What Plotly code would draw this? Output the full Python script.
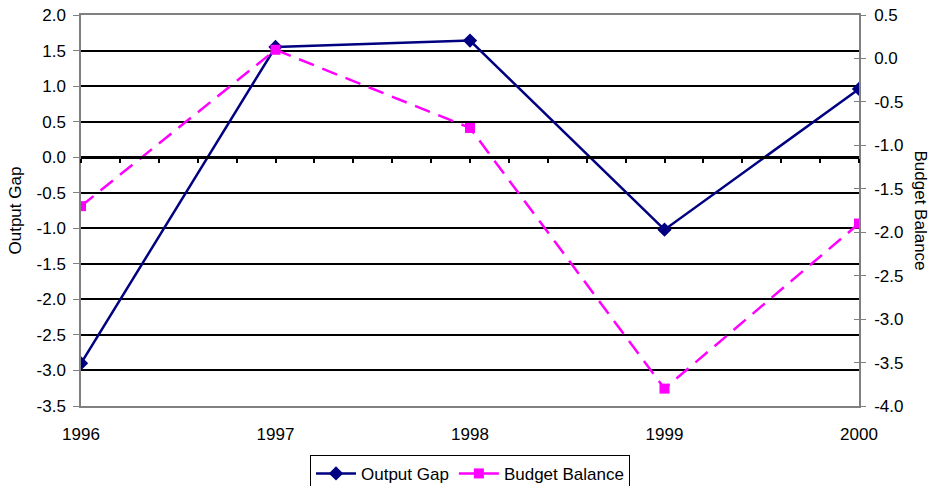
import plotly.graph_objects as go

years = [1996, 1997, 1998, 1999, 2000]
output_gap = [-2.9, 1.55, 1.64, -1.02, 0.96]
budget_balance = [-1.7, 0.1, -0.8, -3.8, -1.9]

left_ticks = [2.0, 1.5, 1.0, 0.5, 0.0, -0.5, -1.0, -1.5, -2.0, -2.5, -3.0, -3.5]
right_ticks = [0.5, 0.0, -0.5, -1.0, -1.5, -2.0, -2.5, -3.0, -3.5, -4.0]
left_labels = [f"{v:.1f}" for v in left_ticks]
right_labels = [f"{v:.1f}" for v in right_ticks]
year_labels = [str(y) for y in years]

FONT = "Arial, Liberation Sans, sans-serif"
FS = 17

fig = go.Figure()
fig.add_trace(go.Scatter(
    x=years, y=output_gap, name="Output Gap", mode="lines+markers",
    line=dict(color="#000080", width=2.5),
    marker=dict(symbol="diamond", size=11, color="#000080"),
    yaxis="y", xaxis="x"))
fig.add_trace(go.Scatter(
    x=years, y=budget_balance, name="Budget Balance", mode="lines+markers",
    line=dict(color="#FF00FF", width=2.5, dash="16px,9px"),
    marker=dict(symbol="square", size=10, color="#FF00FF"),
    yaxis="y2", xaxis="x"))
# dummy traces to activate helper axes
fig.add_trace(go.Scatter(x=[1996], y=[None], xaxis="x2", yaxis="y", showlegend=False,
                         hoverinfo="skip"))
fig.add_trace(go.Scatter(x=[1996], y=[None], xaxis="x", yaxis="y3", showlegend=False,
                         hoverinfo="skip"))

fig.update_layout(
    width=931, height=486,
    margin=dict(l=81, r=72, t=15, b=80, autoexpand=False),
    paper_bgcolor="white", plot_bgcolor="white",
    font=dict(family=FONT, size=FS, color="black"),
    showlegend=True,
    legend=dict(orientation="h", x=0.5, xanchor="center", y=-0.125, yanchor="top",
                bordercolor="black", borderwidth=1, font=dict(size=FS),
                itemwidth=40, tracegroupgap=0),
    xaxis=dict(range=[1996, 2000], tickvals=years, ticktext=year_labels,
               showgrid=False, zeroline=False, showline=True, linecolor="#808080",
               linewidth=1.5, mirror=True, ticks="", ticklabelstandoff=12,
               automargin=False),
    xaxis2=dict(range=[1996, 2000], overlaying="x", anchor="free", position=3.5 / 5.5,
                side="bottom", showgrid=False, zeroline=False, showline=True,
                linecolor="black", linewidth=2.5, ticks="outside", ticklen=4,
                tickwidth=2, tickcolor="black", dtick=0.2, tick0=1996,
                showticklabels=False, automargin=False),
    yaxis=dict(range=[-3.5, 2.0], tickvals=left_ticks, ticktext=left_labels,
               showgrid=True, gridcolor="black", gridwidth=1.5,
               zeroline=False, showline=True, linecolor="#808080", linewidth=1.5,
               ticks="outside", ticklen=6, tickcolor="#808080",
               ticklabelstandoff=4, automargin=False),
    yaxis2=dict(range=[-4.0, 0.5], tickvals=right_ticks, ticktext=right_labels,
                overlaying="y", side="right", anchor="x", showgrid=False, zeroline=False,
                showline=True, linecolor="#808080", linewidth=1.5,
                ticks="outside", ticklen=5, tickcolor="#808080",
                ticklabelstandoff=5, automargin=False),
    yaxis3=dict(range=[-4.0, 0.5], tickvals=right_ticks, overlaying="y", side="right",
                anchor="x", showgrid=False, zeroline=False, showline=False,
                ticks="inside", ticklen=5, tickcolor="#808080",
                showticklabels=False, automargin=False),
    annotations=[
        dict(text="Output Gap", x=0, y=0.5, xref="paper", yref="paper",
             xanchor="center", yanchor="middle", xshift=-66, textangle=-90,
             showarrow=False, font=dict(size=FS, color="black")),
        dict(text="Budget Balance", x=1, y=0.5, xref="paper", yref="paper",
             xanchor="center", yanchor="middle", xshift=61, textangle=90,
             showarrow=False, font=dict(size=FS, color="black")),
    ],
)

fig.write_html("out.html", config={"displayModeBar": False},
               post_script="document.body.style.margin='0';document.body.style.padding='0';")
